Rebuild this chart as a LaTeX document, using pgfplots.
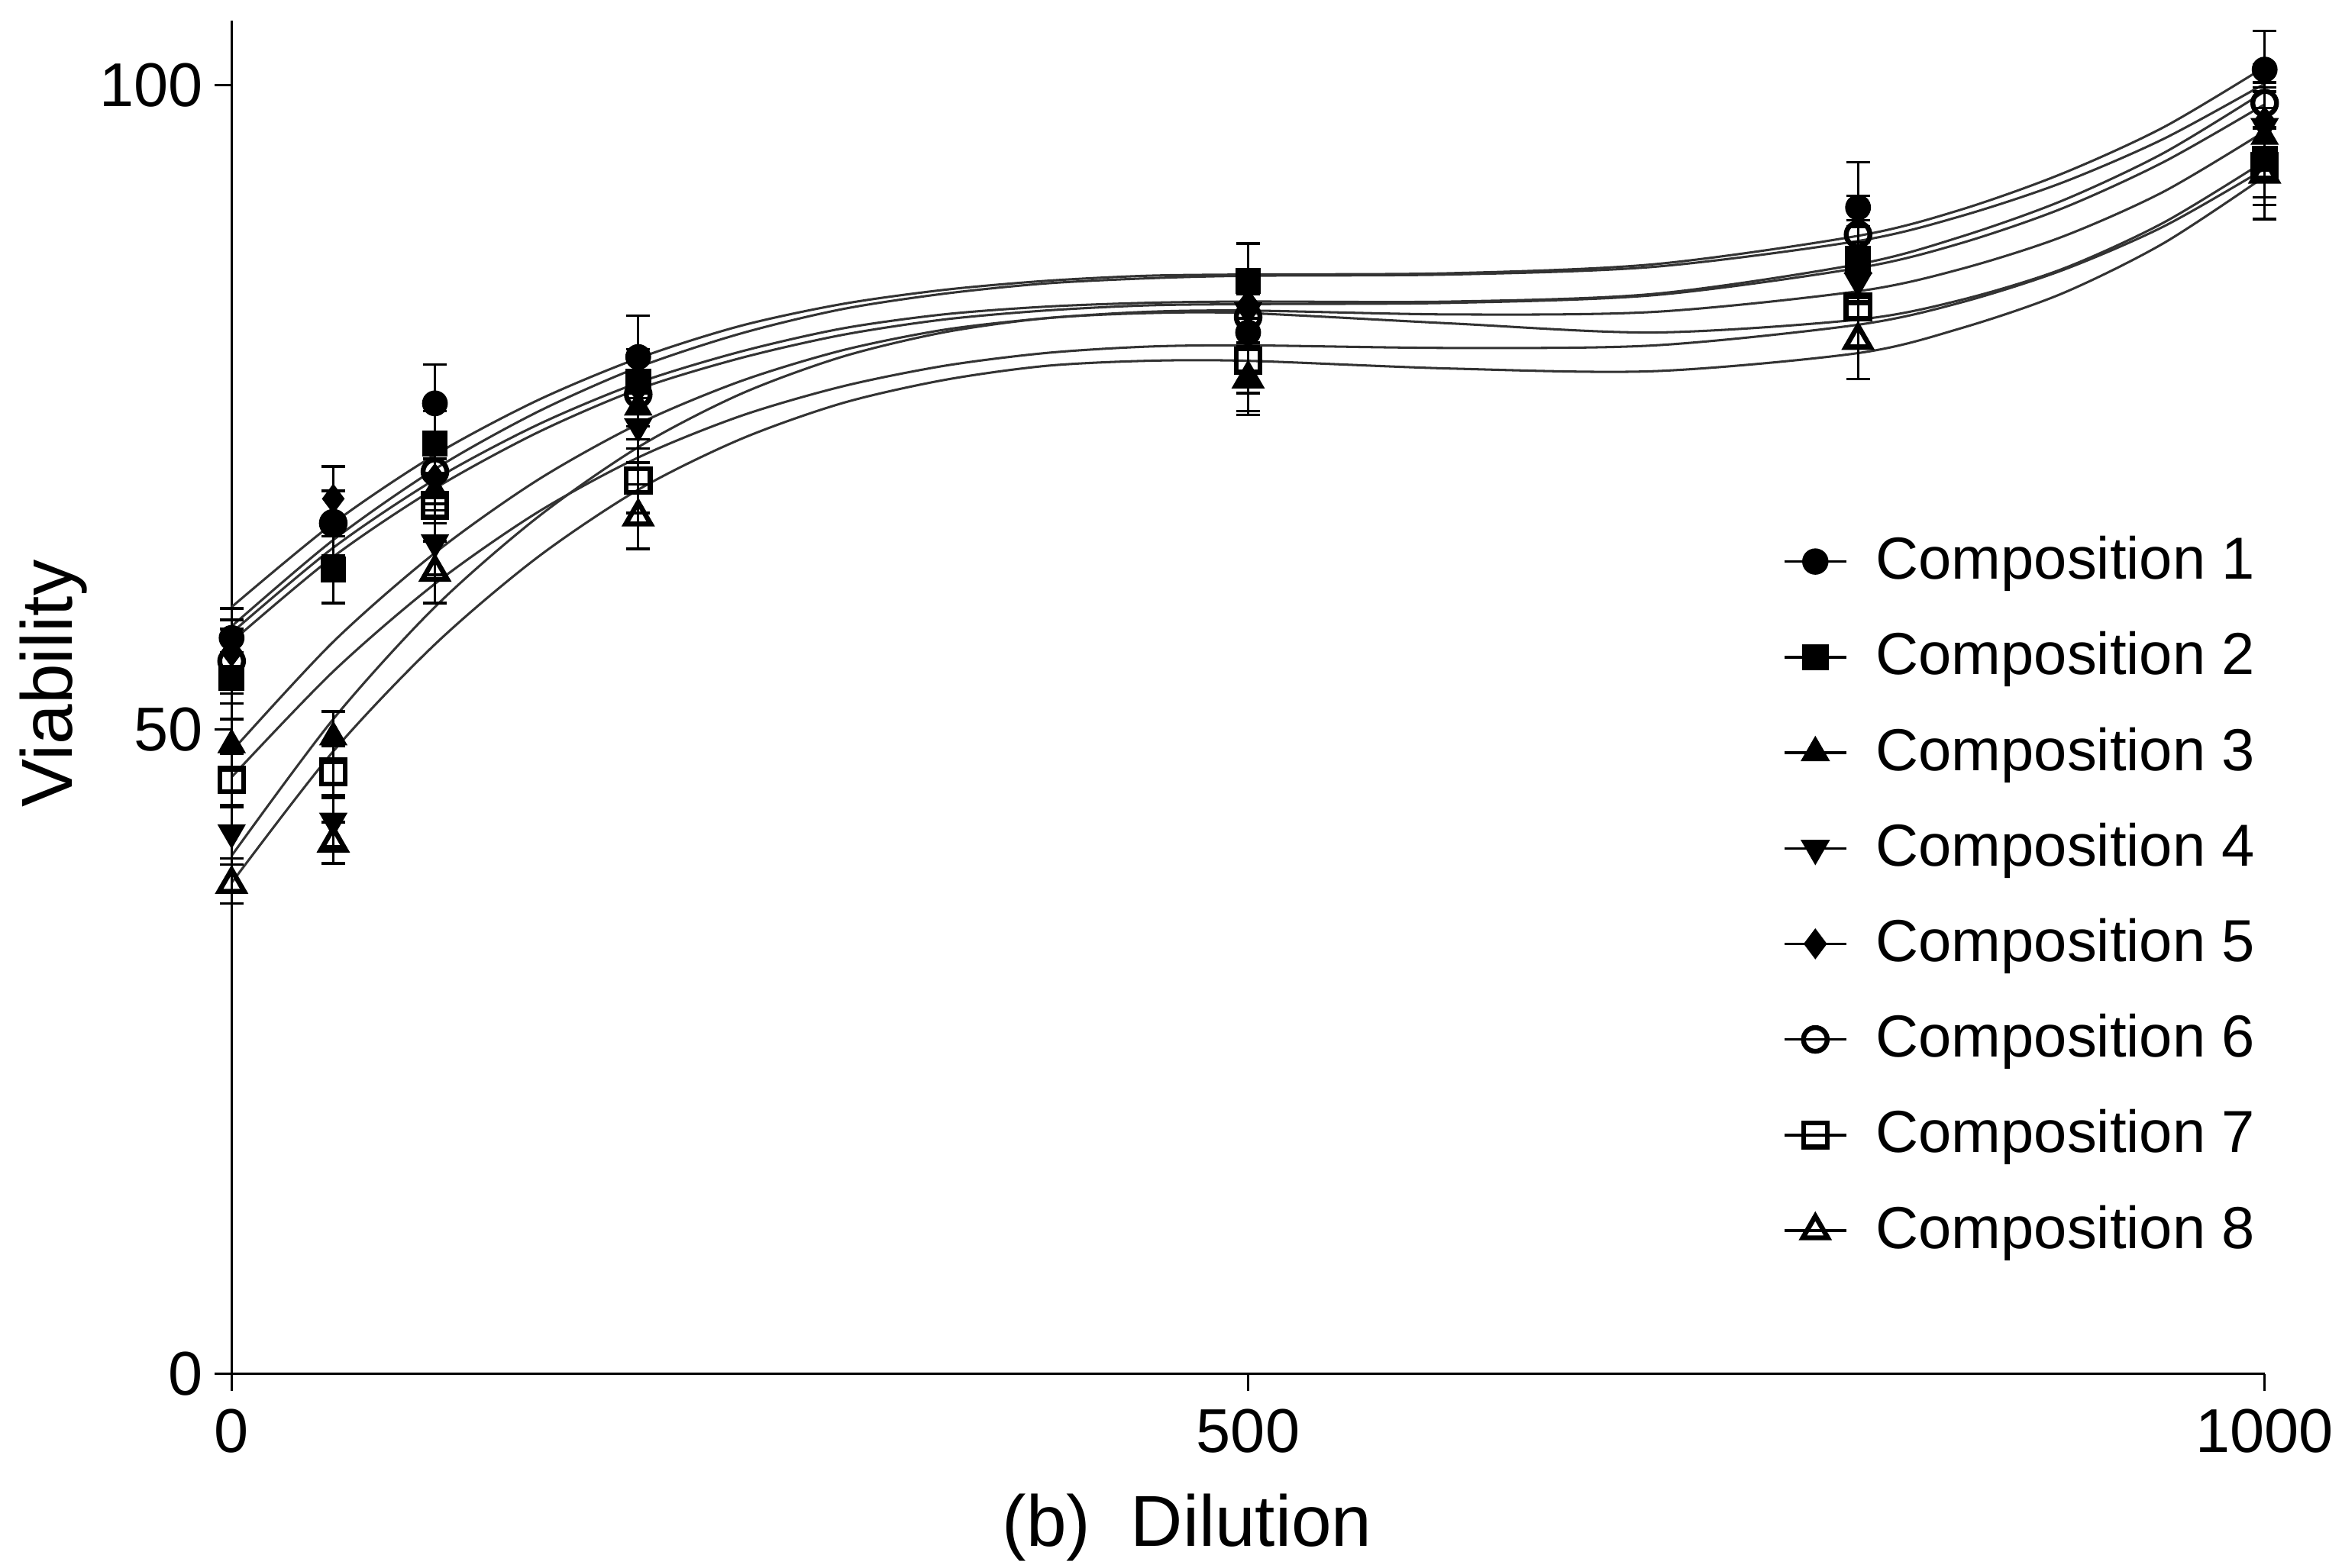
\documentclass[border=0pt]{standalone}
\usepackage{fontspec}
\setmainfont{Liberation Sans}
\usepackage{pgfplots}
\pgfplotsset{compat=1.18}
\usepackage{pgfplotstable}

\pgfplotstableread{
x y e
0 57.1 2.3
50 66.0 2.5
100 75.3 3.0
200 78.9 3.2
500 80.8 3.0
800 90.5 3.5
1000 101.2 3.0
}\compA
\pgfplotstableread{
x y e
0 54.0 2.0
50 62.4 2.6
100 72.2 2.5
200 77.0 2.5
500 84.8 2.9
800 86.5 3.0
1000 94.3 3.0
}\compB
\pgfplotstableread{
x y e
0 48.8 2.0
50 49.4 2.0
100 68.5 2.5
200 75.0 2.5
500 77.2 2.5
800 86.0 3.0
1000 96.0 3.5
}\compC
\pgfplotstableread{
x y e
0 42.0 2.0
50 42.9 2.0
100 64.5 2.5
200 73.5 2.8
500 82.5 2.5
800 84.8 3.0
1000 96.8 3.0
}\compD
\pgfplotstableread{
x y e
0 56.0 2.5
50 67.9 2.5
100 69.5 2.5
200 76.5 2.5
500 83.0 2.5
800 86.5 3.0
1000 97.2 3.0
}\compE
\pgfplotstableread{
x y e
0 55.3 2.5
50 66.0 2.5
100 70.0 2.5
200 76.0 2.5
500 82.0 2.5
800 88.4 3.0
1000 98.6 3.0
}\compF
\pgfplotstableread{
x y e
0 46.1 2.0
50 46.7 2.0
100 67.4 2.5
200 69.3 2.5
500 78.6 2.5
800 82.8 3.0
1000 93.7 3.0
}\compG
\pgfplotstableread{
x y e
0 38.0 1.5
50 41.2 1.6
100 62.2 2.4
200 66.5 2.5
500 77.2 2.8
800 80.2 3.0
1000 93.1 3.5
}\compH

% fitted curves
\pgfplotstableread{
X L1 L2 L3 L4 L5 L6 L7 L8
0 59.5 58.0 57.5 56.8 48.3 40.2 46.3 38.1
50 66.0 64.7 64.1 63.4 56.8 50.8 54.5 48.3
100 71.3 70.2 69.4 68.7 63.7 59.5 61.3 56.6
150 75.5 74.6 73.6 73.0 69.3 66.4 66.8 63.3
200 78.8 78.1 76.9 76.4 73.7 71.9 71.1 68.6
250 81.3 80.7 79.3 78.8 77.0 76.0 74.3 72.5
300 83.0 82.6 81.1 80.6 79.4 78.9 76.6 75.3
350 84.1 83.8 82.2 81.8 81.0 80.8 78.2 77.1
400 84.8 84.6 82.8 82.5 81.9 81.9 79.2 78.2
450 85.2 85.0 83.1 82.9 82.4 82.3 79.7 78.6
500 85.3 85.2 83.2 83.0 82.5 82.3 79.8 78.6
600 85.4 85.3 83.2 83.1 82.2 81.5 79.6 78.0
700 86.1 85.9 83.8 83.7 82.4 80.8 79.8 77.8
800 88.3 87.9 86.1 85.8 84.0 81.8 81.4 79.2
850 90.3 89.8 88.2 87.7 85.7 83.3 83.1 81.1
900 93.1 92.4 91.0 90.4 88.2 85.7 85.6 83.8
950 96.7 95.8 94.7 94.0 91.7 89.3 89.0 87.7
1000 101.4 100.1 99.5 98.5 96.4 94.1 93.5 92.9
}\curves

\pgfplotsset{
  fitline/.style={black!80, line width=0.45pt, smooth, no marks, forget plot},
  pts/.style={only marks, black, forget plot,
    error bars/y dir=both, error bars/y explicit,
    error bars/error bar style={line width=0.5pt, black},
    error bars/error mark options={rotate=90, mark size=2.3pt, line width=0.5pt, black}},
}

\begin{document}
\begin{tikzpicture}
\path[use as bounding box] (-44.9pt,-37.6pt) rectangle (409.1pt,266.4pt);
\begin{axis}[
  scale only axis,
  width=394.1pt, height=262.4pt,
  xmin=0, xmax=1000, ymin=0, ymax=105,
  axis x line*=bottom, axis y line*=left,
  xtick={0,500,1000}, ytick={0,50,100},
  tick align=outside, major tick length=3.3pt,
  tick style={black, line width=0.5pt},
  axis line style={black, line width=0.5pt},
  ticklabel style={font=\fontsize{12}{14}\selectfont},
  yticklabel style={xshift=1.2pt},
  /pgf/number format/assume math mode=true,
  /pgf/number format/1000 sep={},
  xlabel={(b)\ \ Dilution},
  ylabel={Viability},
  label style={font=\fontsize{14}{16}\selectfont},
  xlabel style={at={(axis description cs:0.47,0)}, anchor=base, yshift=-33.5pt},
  ylabel style={at={(axis description cs:-0.0875,0.51)}, anchor=center},
  clip=false,
  legend cell align=left,
  legend image code/.code={\draw[mark repeat=2,mark phase=2,#1] plot coordinates {(0pt,0pt) (6pt,0pt) (12pt,0pt)};},
  legend style={at={(axis description cs:0.755,0.635)}, anchor=north west, draw=none, fill=none,
    font=\fontsize{11.5}{13}\selectfont, row sep=4.7pt,
    /tikz/every odd column/.append style={column sep=3.5pt}},
]
\addplot[fitline] table[x=X,y=L1] {\curves};
\addplot[fitline] table[x=X,y=L2] {\curves};
\addplot[fitline] table[x=X,y=L3] {\curves};
\addplot[fitline] table[x=X,y=L4] {\curves};
\addplot[fitline] table[x=X,y=L5] {\curves};
\addplot[fitline] table[x=X,y=L6] {\curves};
\addplot[fitline] table[x=X,y=L7] {\curves};
\addplot[fitline] table[x=X,y=L8] {\curves};

\addplot[pts, mark=triangle, mark size=2.8pt, mark options={fill=white, line width=0.95pt}] table[x=x,y=y,y error=e] {\compH};
\addplot[pts, mark=square, mark size=2.3pt, mark options={fill=white, line width=0.95pt}] table[x=x,y=y,y error=e] {\compG};
\addplot[pts, mark=o, mark size=2.3pt, mark options={fill=white, line width=0.95pt}] table[x=x,y=y,y error=e] {\compF};
\addplot[pts, mark=diamond*, mark size=2.6pt, mark options={fill=black}] table[x=x,y=y,y error=e] {\compE};
\addplot[pts, mark=triangle*, mark size=2.8pt, mark options={fill=black, rotate=180}] table[x=x,y=y,y error=e] {\compD};
\addplot[pts, mark=triangle*, mark size=2.8pt, mark options={fill=black}] table[x=x,y=y,y error=e] {\compC};
\addplot[pts, mark=square*, mark size=2.3pt, mark options={fill=black}] table[x=x,y=y,y error=e] {\compB};
\addplot[pts, mark=*, mark size=2.3pt, mark options={fill=black}] table[x=x,y=y,y error=e] {\compA};

\addlegendimage{black, line width=0.5pt, mark=*, mark size=2.3pt}
\addlegendentry{Composition 1}
\addlegendimage{black, line width=0.5pt, mark=square*, mark size=2.3pt}
\addlegendentry{Composition 2}
\addlegendimage{black, line width=0.5pt, mark=triangle*, mark size=2.8pt}
\addlegendentry{Composition 3}
\addlegendimage{black, line width=0.5pt, mark=triangle*, mark size=2.8pt, mark options={rotate=180}}
\addlegendentry{Composition 4}
\addlegendimage{black, line width=0.5pt, mark=diamond*, mark size=2.6pt}
\addlegendentry{Composition 5}
\addlegendimage{black, line width=0.5pt, mark=o, mark size=2.3pt, mark options={fill=white, line width=0.95pt}}
\addlegendentry{Composition 6}
\addlegendimage{black, line width=0.5pt, mark=square, mark size=2.3pt, mark options={fill=white, line width=0.95pt}}
\addlegendentry{Composition 7}
\addlegendimage{black, line width=0.5pt, mark=triangle, mark size=2.8pt, mark options={fill=white, line width=0.95pt}}
\addlegendentry{Composition 8}
\end{axis}
\end{tikzpicture}
\end{document}
